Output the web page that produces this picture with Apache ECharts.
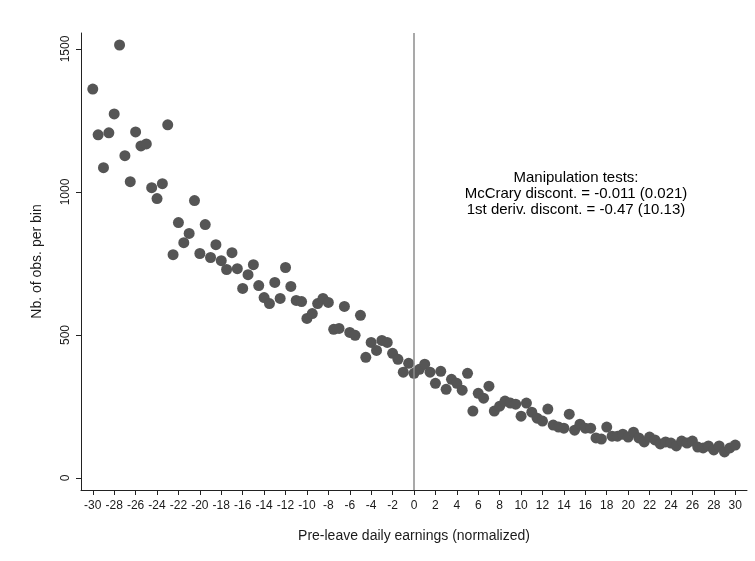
<!DOCTYPE html>
<html>
<head>
<meta charset="utf-8">
<script src="https://cdn.jsdelivr.net/npm/echarts@6/dist/echarts.min.js"></script>
<style>
  html, body { margin: 0; padding: 0; background: #fff; }
  #chart { width: 755px; height: 561px; }
</style>
</head>
<body>
<div id="chart"></div>
<script>
/* bin centers, normalized pre-leave daily earnings */
const BINS = [
  -30, -29.5, -29, -28.5, -28, -27.5, -27, -26.5, -26, -25.5,
  -25, -24.5, -24, -23.5, -23, -22.5, -22, -21.5, -21, -20.5,
  -20, -19.5, -19, -18.5, -18, -17.5, -17, -16.5, -16, -15.5,
  -15, -14.5, -14, -13.5, -13, -12.5, -12, -11.5, -11, -10.5,
  -10, -9.5, -9, -8.5, -8, -7.5, -7, -6.5, -6, -5.5,
  -5, -4.5, -4, -3.5, -3, -2.5, -2, -1.5, -1, -0.5,
  0, 0.5, 1, 1.5, 2, 2.5, 3, 3.5, 4, 4.5,
  5, 5.5, 6, 6.5, 7, 7.5, 8, 8.5, 9, 9.5,
  10, 10.5, 11, 11.5, 12, 12.5, 13, 13.5, 14, 14.5,
  15, 15.5, 16, 16.5, 17, 17.5, 18, 18.5, 19, 19.5,
  20, 20.5, 21, 21.5, 22, 22.5, 23, 23.5, 24, 24.5,
  25, 25.5, 26, 26.5, 27, 27.5, 28, 28.5, 29, 29.5, 30
]

/* number of observations per bin */
const COUNTS = [
  1360, 1200, 1085, 1207, 1273, 1514, 1127, 1036, 1210, 1161,
  1168, 1015, 977, 1029, 1235, 781, 893, 823, 855, 970,
  785, 886, 771, 816, 760, 729, 788, 732, 663, 711,
  746, 673, 631, 610, 684, 628, 736, 670, 621, 617,
  558, 575, 610, 628, 614, 520, 523, 600, 509, 499,
  569, 422, 474, 446, 481, 474, 436, 415, 370, 401,
  366, 380, 398, 370, 331, 373, 310, 345, 331, 307,
  366, 234, 296, 279, 321, 234, 251, 269, 262, 258,
  216, 262, 230, 209, 199, 241, 185, 178, 174, 223,
  167, 188, 174, 174, 140, 136, 178, 146, 146, 153,
  143, 160, 140, 126, 143, 133, 119, 126, 122, 112,
  129, 122, 129, 108, 105, 112, 98, 112, 91, 105, 115
]

const X_TICKS = [-30, -28, -26, -24, -22, -20, -18, -16, -14, -12, -10, -8, -6, -4, -2,
  0, 2, 4, 6, 8, 10, 12, 14, 16, 18, 20, 22, 24, 26, 28, 30]
const Y_TICKS = [0, 500, 1000, 1500]

const NOTE = [
  'Manipulation tests:',
  'McCrary discont. = -0.011 (0.021)',
  '1st deriv. discont. = -0.47 (10.13)'
]

const FONT = '"Liberation Sans", Arial, sans-serif'
const INK = '#1a1a1a'

const chart = echarts.init(document.getElementById('chart'), null, { renderer: 'canvas' })

chart.setOption({
  backgroundColor: '#fff',
  animation: false,
  grid: { left: 81, right: 8, top: 33, bottom: 71 },
  xAxis: {
    type: 'value',
    min: -31.1,
    max: 31.1,
    name: 'Pre-leave daily earnings (normalized)',
    nameLocation: 'middle',
    nameGap: 39,
    nameTextStyle: { fontFamily: FONT, fontSize: 14, color: INK },
    axisLine: { show: true, onZero: false, lineStyle: { color: '#222', width: 1 } },
    axisTick: { show: true, length: 5, customValues: X_TICKS, lineStyle: { color: '#222' } },
    axisLabel: { customValues: X_TICKS, margin: 10, fontFamily: FONT, fontSize: 12, color: INK },
    splitLine: { show: false }
  },
  yAxis: {
    type: 'value',
    min: -42,
    max: 1556,
    name: 'Nb. of obs. per bin',
    nameLocation: 'middle',
    nameGap: 37,
    nameTextStyle: { fontFamily: FONT, fontSize: 14, color: INK },
    axisLine: { show: true, onZero: false, lineStyle: { color: '#222', width: 1 } },
    axisTick: { show: true, length: 5, customValues: Y_TICKS, lineStyle: { color: '#222' } },
    axisLabel: {
      customValues: Y_TICKS, rotate: 90, margin: 9,
      fontFamily: FONT, fontSize: 12, color: INK,
      formatter: v => String(v)
    },
    splitLine: { show: false }
  },
  graphic: [{
    type: 'text',
    x: 576,
    y: 170,
    style: {
      text: NOTE.join('\n'),
      align: 'center',
      verticalAlign: 'top',
      font: '15px ' + FONT,
      lineHeight: 16,
      fill: '#000'
    }
  }],
  series: [{
    type: 'scatter',
    symbol: 'circle',
    symbolSize: 11,
    itemStyle: { color: '#555555', opacity: 1 },
    data: BINS.map((b, i) => [b, COUNTS[i]]),
    markLine: {
      silent: true,
      symbol: 'none',
      label: { show: false },
      lineStyle: { color: '#8c8c8c', width: 1.5, type: 'solid' },
      data: [{ xAxis: 0 }]
    }
  }]
})
</script>
</body>
</html>
